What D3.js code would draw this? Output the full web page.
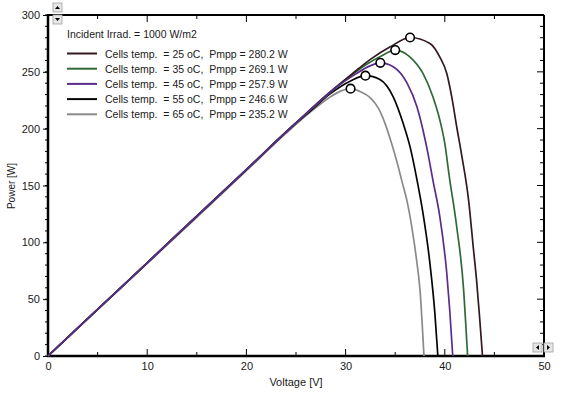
<!DOCTYPE html>
<html lang="en">
<head>
  <meta charset="UTF-8">
  <title>PV power vs voltage</title>
  <script src="https://d3js.org/d3.v7.min.js"></script>
  <style>
    body { margin: 0; padding: 0; background: #fff; font-family: 'Liberation Sans', Arial, sans-serif; }
    svg text { font-family: 'Liberation Sans', Arial, sans-serif; fill: #1a1a1a; }
    .curve { fill: none; stroke-width: 1.7px; }
  </style>
</head>
<body>
<svg id="chart" width="572" height="393"></svg>
<script>
  // values: [voltage V, power W]
  const irradText = "Incident Irrad. = 1000 W/m2";
  const temps = [25, 35, 45, 55, 65];
  const pmpp = [280.2, 269.1, 257.9, 246.6, 235.2];
  const colors = ["#321a1e", "#2f6a36", "#5a2c8c", "#050505", "#8a8a8a"];

  const curve25 = [[0,0],[5,41],[10,82],[15,123],[20,164],[25,205],[28,229],[30.5,247],[32.5,261],[34.5,272],[36.5,280.2],
    [38.5,275],[39.5,263],[40.2,248.6],[40.7,228],[41.2,201.7],[41.7,176.8],[42.4,137],[42.9,93],[43.2,67],[43.5,35],[43.8,0]];
  const curve35 = [[0,0],[5,41],[10,82],[15,123],[20,164],[25,205],[28,228.5],[30,243],[32,256],[33.6,264],[35.0,269.1],
    [36.5,263],[37.8,248.6],[38.8,228],[39.5,207.6],[40.0,187],[40.45,158],[41.2,113.7],[41.9,58],[42.1,30],[42.3,0]];
  const curve45 = [[0,0],[5,41],[10,82],[15,123],[20,164],[25,205],[27,221],[29,236],[31,248],[32.4,255],[33.5,257.9],
    [34.8,254.5],[36.2,240],[37.2,219],[37.8,198.8],[38.3,178.3],[38.8,154.8],[39.5,122.5],[40.2,72.8],[40.5,40],[40.8,0]];
  const curve55 = [[0,0],[5,41],[10,82],[15,123],[20,164],[25,205],[26.5,216],[28.5,231],[30.5,242],[32.0,246.6],
    [33.5,243],[34.8,228],[35.8,204.7],[36.5,184],[37.2,154.8],[37.8,125.6],[38.5,81.5],[39.0,37.5],[39.3,0]];
  const curve65 = [[0,0],[5,41],[10,81.5],[15,122],[20,163],[24,196],[26.5,215],[28.3,227],[29.5,233],[30.5,235.2],
    [31.5,232.5],[32.5,227],[33.3,218],[34.0,204],[34.6,188],[35.2,170],[35.7,153],[36.2,136],[36.7,112],[37.1,88],
    [37.5,58],[37.9,0]];
  const curves = [curve25, curve35, curve45, curve55, curve65];
  const mpp = [[36.5,280.2],[35.0,269.1],[33.5,257.9],[32.0,246.6],[30.5,235.2]];

  const xTicks = [0, 10, 20, 30, 40, 50];
  const yTicks = [0, 50, 100, 150, 200, 250, 300];

  const svg = d3.select("#chart");
  const pl = 48, pr = 544, pt = 15, pb = 356;

  const x = d3.scaleLinear().domain([0, 50]).range([pl, pr]);
  const y = d3.scaleLinear().domain([0, 300]).range([pb, pt]);

  // minor ticks
  const xMinor = d3.range(0, 51, 5);
  const yMinor = d3.range(0, 301, 10);

  // bottom axis: labels below, ticks pointing inward
  const gx = svg.append("g").attr("transform", `translate(0,${pb})`)
    .call(d3.axisBottom(x).tickValues(xTicks).tickSize(0).tickPadding(6).tickFormat(d3.format("d")));
  gx.select(".domain").remove();
  gx.selectAll("text").style("font-size", "11px");
  svg.append("g").selectAll("line").data(xMinor).join("line")
    .attr("x1", d => x(d)).attr("x2", d => x(d))
    .attr("y1", pb).attr("y2", d => pb - (d % 10 === 0 ? 7 : 4))
    .attr("stroke", "#000").attr("stroke-width", 1);
  // top border ticks
  svg.append("g").selectAll("line").data(xMinor).join("line")
    .attr("x1", d => x(d)).attr("x2", d => x(d))
    .attr("y1", pt).attr("y2", d => pt + (d % 10 === 0 ? 7 : 4))
    .attr("stroke", "#000").attr("stroke-width", 1);

  // left axis: ticks outward
  const gy = svg.append("g").attr("transform", `translate(${pl},0)`)
    .call(d3.axisLeft(y).tickValues(yTicks).tickSize(5).tickPadding(3));
  gy.select(".domain").remove();
  gy.selectAll("text").style("font-size", "11px");
  svg.append("g").selectAll("line").data(yMinor).join("line")
    .attr("x1", pl).attr("x2", pl - 3)
    .attr("y1", d => y(d)).attr("y2", d => y(d))
    .attr("stroke", "#000").attr("stroke-width", 1);
  // right border ticks
  svg.append("g").selectAll("line").data(yMinor).join("line")
    .attr("x1", pr).attr("x2", d => pr - (d % 50 === 0 ? 7 : 4))
    .attr("y1", d => y(d)).attr("y2", d => y(d))
    .attr("stroke", "#000").attr("stroke-width", 1);

  // frame
  svg.append("line").attr("x1", pl).attr("x2", pr).attr("y1", pt).attr("y2", pt)
    .attr("stroke", "#000").attr("stroke-width", 2);
  svg.append("line").attr("x1", pr).attr("x2", pr).attr("y1", pt).attr("y2", pb)
    .attr("stroke", "#000").attr("stroke-width", 2);
  svg.append("line").attr("x1", pl).attr("x2", pl).attr("y1", pt - 1).attr("y2", pb + 1)
    .attr("stroke", "#000").attr("stroke-width", 2.5);
  svg.append("line").attr("x1", pl - 1).attr("x2", pr + 1).attr("y1", pb).attr("y2", pb)
    .attr("stroke", "#000").attr("stroke-width", 2.5);

  // axis titles
  svg.append("text").attr("x", (pl + pr) / 2).attr("y", 386).attr("text-anchor", "middle")
    .style("font-size", "11px").text("Voltage [V]");
  svg.append("text").attr("transform", `translate(15,186) rotate(-90)`).attr("text-anchor", "middle")
    .style("font-size", "10px").text("Power [W]");

  // curves (hottest first so the cooler curves sit on top)
  const line = d3.line().x(d => x(d[0])).y(d => y(d[1])).curve(d3.curveMonotoneX);
  const order = [4, 3, 1, 0, 2];
  order.forEach(i => {
    svg.append("path").datum(curves[i]).attr("class", "curve")
      .attr("stroke", colors[i]).attr("d", line);
  });

  svg.append("g").selectAll("circle").data(mpp).join("circle")
    .attr("cx", d => x(d[0])).attr("cy", d => y(d[1])).attr("r", 4.3)
    .attr("fill", "#fff").attr("stroke", "#000").attr("stroke-width", 1.6);

  // legend
  const legend = svg.append("g");
  legend.append("text").attr("x", 67).attr("y", 38).style("font-size", "10.5px").text(irradText);
  temps.forEach((t, i) => {
    const yy = 53.5 + i * 15.2;
    legend.append("line").attr("x1", 67).attr("x2", 97).attr("y1", yy).attr("y2", yy)
      .attr("stroke", colors[i]).attr("stroke-width", 2);
    legend.append("text").attr("x", 105).attr("y", yy + 4).attr("xml:space", "preserve")
      .style("font-size", "10.5px").style("white-space", "pre")
      .text(`Cells temp.  = ${t} oC,  Pmpp = ${pmpp[i].toFixed(1)} W`);
  });

  // scroll buttons
  function button(bx, by, dir) {
    const g = svg.append("g").attr("transform", `translate(${bx},${by})`);
    g.append("rect").attr("width", 9).attr("height", 9).attr("fill", "#e6e6e6")
      .attr("stroke", "#a0a0a0").attr("stroke-width", 0.8);
    const tri = { up: "M2,6 L4.5,3 L7,6 Z", down: "M2,3 L4.5,6 L7,3 Z",
                  left: "M6,2 L3,4.5 L6,7 Z", right: "M3,2 L6,4.5 L3,7 Z" }[dir];
    g.append("path").attr("d", tri).attr("fill", "#000");
  }
  button(53, 3, "up");
  button(53, 15, "down");
  button(533, 343, "left");
  button(544, 343, "right");
</script>
</body>
</html>
